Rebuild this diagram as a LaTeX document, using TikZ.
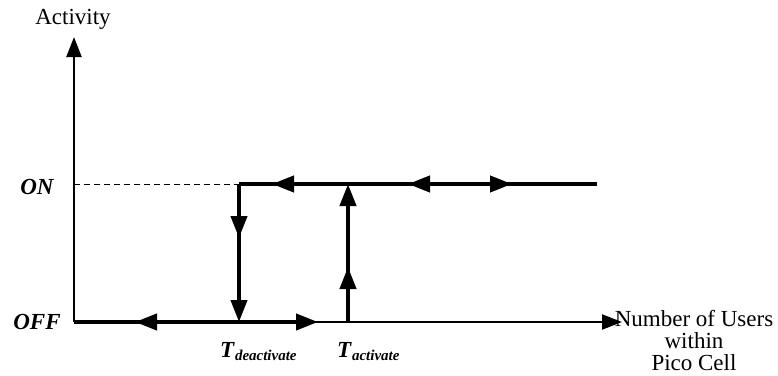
\documentclass[tikz,border=0pt]{standalone}
\usepackage{fontspec}
\setmainfont{Liberation Serif}
\usetikzlibrary{arrows.meta,decorations.markings}
\tikzset{
  axis/.style={line width=2.2pt,-{Triangle[length=20pt,width=15pt]}},
  heavy/.style={line width=4pt},
  htip/.style={-{Triangle[length=22pt,width=16pt]}},
  lbl/.style={font=\fontsize{23}{23}\selectfont, inner sep=0pt},
  state/.style={font=\fontsize{23}{23}\selectfont\bfseries\itshape, inner sep=0pt},
  guide/.style={line width=1pt, dash pattern=on 6pt off 4pt},
}
\begin{document}
\begin{tikzpicture}[x=1pt,y=-1pt]
\useasboundingbox (0,0) rectangle (778,375);
% coordinates
\coordinate (O) at (74,322);
\coordinate (Ytop) at (74,37);
\coordinate (Xend) at (622,322);
\coordinate (Don) at (239,184);
\coordinate (Doff) at (239,322);
\coordinate (Aoff) at (348,322);
\coordinate (Aon) at (348,184);
\coordinate (Ron) at (597,184);
\coordinate (OnAxis) at (74,184);
\coordinate (OffTip) at (318,322);
% axes
\draw[axis] (O) -- (Ytop);
\draw[axis] (O) -- (Xend);
\draw[guide] (OnAxis) -- (Don);
% thick paths
\draw[heavy, htip, postaction={decorate},
  decoration={markings, mark=at position 61pt with {\arrowreversed{Triangle[length=22pt,width=16pt]}}}]
  (O) -- (OffTip);
\draw[heavy, postaction={decorate},
  decoration={markings,
    mark=at position 33pt with {\arrowreversed{Triangle[length=22pt,width=16pt]}},
    mark=at position 169pt with {\arrowreversed{Triangle[length=22pt,width=16pt]}},
    mark=at position 273pt with {\arrow{Triangle[length=22pt,width=16pt]}}}]
  (Don) -- (Ron);
\draw[heavy, htip, postaction={decorate},
  decoration={markings, mark=at position 54pt with {\arrow{Triangle[length=22pt,width=16pt]}}}]
  (Don) -- (Doff);
\draw[heavy, htip, postaction={decorate},
  decoration={markings, mark=at position 55pt with {\arrow{Triangle[length=22pt,width=16pt]}}}]
  (Aoff) -- (Aon);
% labels
\node[lbl] (act) at (73,19) {Activity};
\node[state] (on) at (37,187) {ON};
\node[state] (off) at (37,322) {OFF};
\node[lbl, anchor=base west] (td) at (220,357) {\textbf{\textit{T}}\textsubscript{\fontsize{15}{15}\selectfont\bfseries\itshape deactivate}};
\node[lbl, anchor=base west] (ta) at (337,357) {\textbf{\textit{T}}\textsubscript{\fontsize{15}{15}\selectfont\bfseries\itshape activate}};
\node[lbl, align=center, anchor=base] (xl) at (694,370) {Number of Users\\[-1pt] within\\[-1pt] Pico Cell};
\end{tikzpicture}
\end{document}
